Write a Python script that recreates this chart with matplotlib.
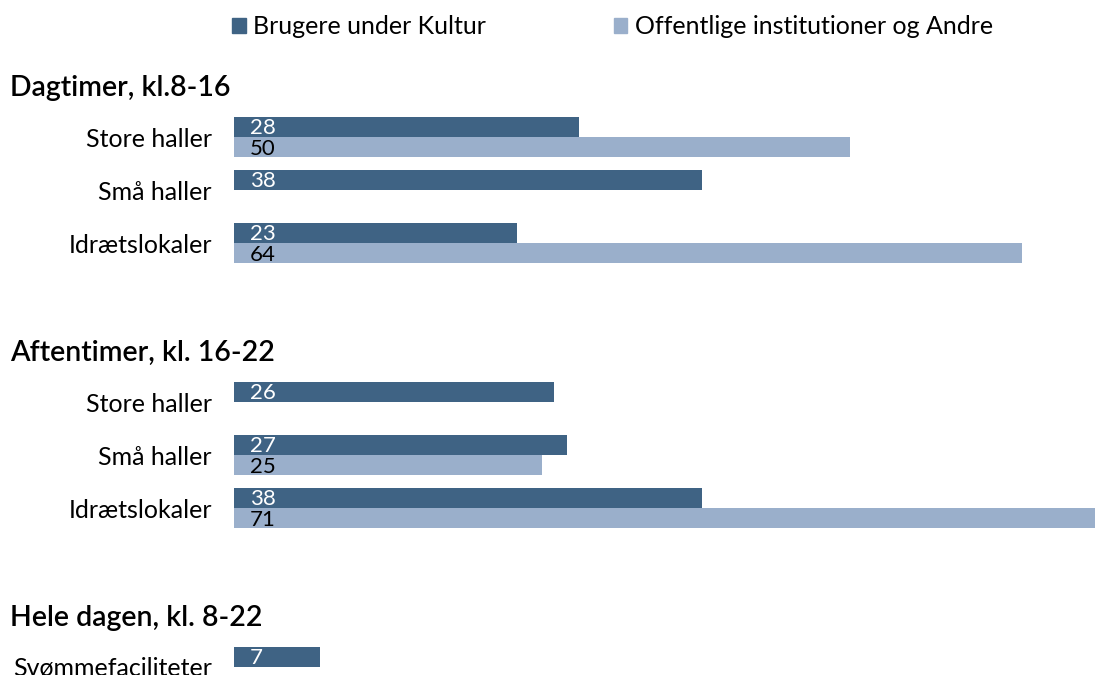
import matplotlib
matplotlib.use("Agg")
import matplotlib.pyplot as plt
import matplotlib.transforms as mtransforms
from matplotlib.patches import Patch

plt.rcParams['font.family'] = ['Lato', 'DejaVu Sans']

# data
sections = ['Dagtimer, kl.8-16', 'Aftentimer, kl. 16-22', 'Hele dagen, kl. 8-22']
categories = [
    ['Store haller', 'Små haller', 'Idrætslokaler'],
    ['Store haller', 'Små haller', 'Idrætslokaler'],
    ['Svømmefaciliteter'],
]
kultur = [[28, 38, 23], [26, 27, 38], [7]]
andre = [[50, None, 64], [None, 25, 71], [None]]
series_names = ['Brugere under Kultur', 'Offentlige institutioner og Andre']

c_dark = '#3f6384'
c_light = '#9aafcb'

W, H = 1095, 675
fig = plt.figure(figsize=(W / 100, H / 100), dpi=100)
ax = fig.add_axes([234 / W, 0, 1 - 234 / W, (675 - 60) / H])

bh = 0.377
pos = 0
ytick_pos, ytick_lab, head_pos = [], [], []
for s, (name, cats) in enumerate(zip(sections, categories)):
    if s > 0:
        pos += 1  # blank row between sections
    head_pos.append(pos)
    pos += 1
    for cat, k, a in zip(cats, kultur[s], andre[s]):
        ytick_pos.append(pos)
        ytick_lab.append(cat)
        if k is not None:
            ax.barh(pos - bh / 2, k, height=bh, color=c_dark)
            ax.text(1.3, pos - bh / 2 + 0.02, str(k), color='white', fontsize=16,
                    va='center', ha='left')
        if a is not None:
            ax.barh(pos + bh / 2, a, height=bh, color=c_light)
            ax.text(1.3, pos + bh / 2 + 0.04, str(a), color='black', fontsize=16,
                    va='center', ha='left')
        pos += 1

trans = mtransforms.blended_transform_factory(fig.transFigure, ax.transData)
for name, hp in zip(sections, head_pos):
    ax.text(10 / W, hp + 0.08, name, transform=trans, fontsize=20.5,
            fontweight='semibold', va='center', ha='left')

ax.set_xlim(0, (W - 234) / 12.32)
ax.set_ylim(11.151, -0.453)
ax.set_yticks(ytick_pos)
ax.set_yticklabels(ytick_lab, fontsize=18)
ax.tick_params(axis='y', length=0, pad=16)
ax.set_xticks([])
for sp in ax.spines.values():
    sp.set_visible(False)

handles = [Patch(color=c_dark), Patch(color=c_light)]
fig.legend(handles, series_names, loc='center left',
           bbox_to_anchor=(232 / W, 1 - 27 / H), ncol=2, frameon=False,
           fontsize=18, handlelength=0.55, handleheight=0.55,
           handletextpad=0.3, columnspacing=5.1, borderaxespad=0,
           borderpad=0)

fig.savefig('out.png', dpi=100)
